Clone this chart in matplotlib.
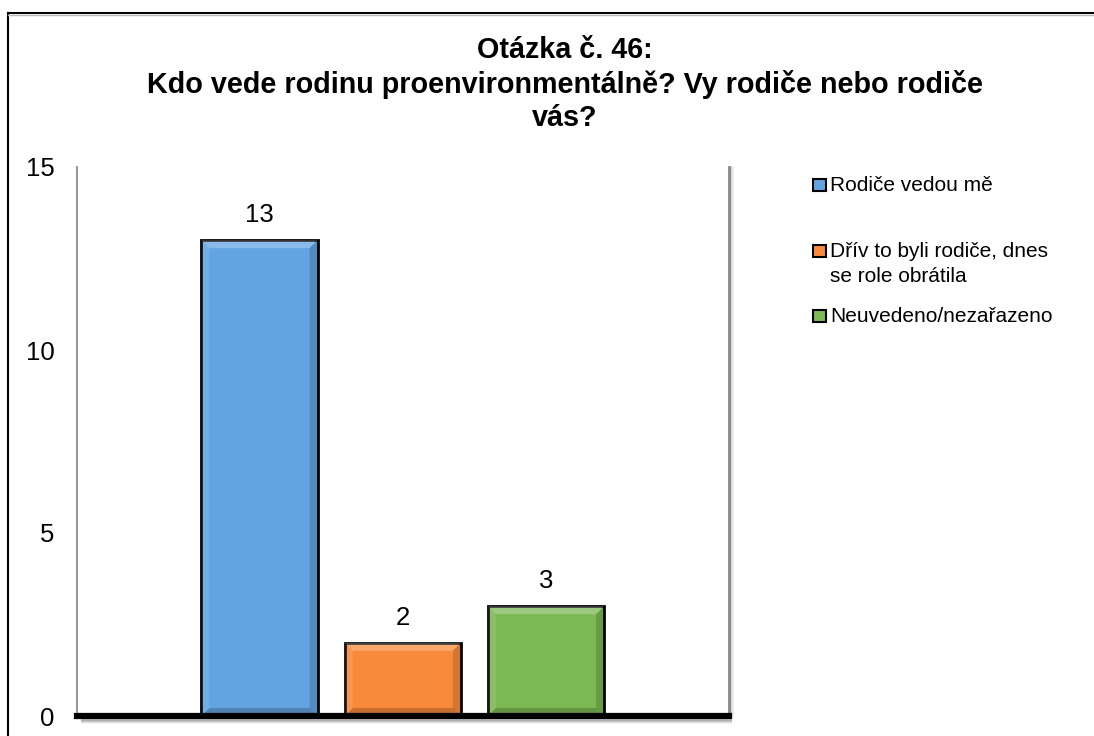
import matplotlib.pyplot as plt
from matplotlib.patches import Polygon, Rectangle
from matplotlib.lines import Line2D

plt.rcParams['font.family'] = ['Liberation Sans', 'DejaVu Sans']

title = "Otázka č. 46:\nKdo vede rodinu proenvironmentálně? Vy rodiče nebo rodiče\nvás?"
labels = ["Rodiče vedou mě", "Dřív to byli rodiče, dnes\nse role obrátila", "Neuvedeno/nezařazeno"]
values = [13, 2, 3]
colors = ["#62a4e2", "#f98a3c", "#7cb854"]
yticks = [0, 5, 10, 15]

W, H = 1094, 736
fig = plt.figure(figsize=(W / 100, H / 100), dpi=100)

# outer frame (only left and top visible)
fig.add_artist(Line2D([8 / W, 8 / W], [0, 1 - 13 / H], color="black", lw=1.5, transform=fig.transFigure))
fig.add_artist(Line2D([8 / W, 1], [1 - 13 / H, 1 - 13 / H], color="black", lw=1.5, transform=fig.transFigure))
fig.add_artist(Line2D([8 / W, 1], [1 - 15 / H, 1 - 15 / H], color="#bbbbbb", lw=1, transform=fig.transFigure))

left, right, bottom, top = 77, 729, 716, 167
ax = fig.add_axes([left / W, 1 - bottom / H, (right - left) / W, (bottom - top) / H])
xmin, xmax = -1.274, 3.277
ax.set_xlim(xmin, xmax)
ax.set_ylim(0, 15)

bar_w = 0.81
bars = ax.bar(range(len(values)), values, width=bar_w, color=colors,
              edgecolor="black", linewidth=2, zorder=3)

# bevel effect on each bar
px_x = (xmax - xmin) / (right - left)
px_y = 15 / (bottom - top)
bev = 8
for b, c in zip(bars, colors):
    x0, y0 = b.get_x(), b.get_y()
    x1, y1 = x0 + b.get_width(), y0 + b.get_height()
    dx, dy = bev * px_x, bev * px_y
    topp = Polygon([(x0, y1), (x1, y1), (x1 - dx, y1 - dy), (x0 + dx, y1 - dy)],
                   closed=True, facecolor="white", alpha=0.25, lw=0, zorder=4)
    botp = Polygon([(x0, y0), (x1, y0), (x1 - dx, y0 + dy), (x0 + dx, y0 + dy)],
                   closed=True, facecolor="black", alpha=0.2, lw=0, zorder=4)
    rp = Polygon([(x1, y0), (x1, y1), (x1 - dx, y1 - dy), (x1 - dx, y0 + dy)],
                 closed=True, facecolor="black", alpha=0.15, lw=0, zorder=4)
    lp = Polygon([(x0, y0), (x0, y1), (x0 + dx, y1 - dy), (x0 + dx, y0 + dy)],
                 closed=True, facecolor="white", alpha=0.1, lw=0, zorder=4)
    for p in (topp, botp, rp, lp):
        ax.add_patch(p)
    ax.text(b.get_x() + b.get_width() / 2, y1 + 25 * px_y, str(int(b.get_height())),
            ha="center", va="center", fontsize=18.5)

for s in ("top", "bottom"):
    ax.spines[s].set_visible(False)
ax.spines["left"].set_color("#999999")
ax.spines["left"].set_linewidth(1.5)
ax.spines["right"].set_color("#888888")
ax.spines["right"].set_linewidth(2)
# shadow right of plot area
for i, a in enumerate([0.35, 0.25, 0.15, 0.08]):
    ax.axvline(xmax + (i + 1.5) * px_x, color="gray", alpha=a, lw=1, clip_on=False)

# thick baseline with shadow
for i, a in enumerate([0.45, 0.3, 0.18, 0.08]):
    ax.plot([xmin + 5 * px_x, xmax + 2 * px_x], [-(4 + i) * px_y] * 2, color="gray",
            alpha=a, lw=1.5, clip_on=False, zorder=2)
ax.axhline(0, color="black", lw=4.5, zorder=5, clip_on=False)

ax.set_xticks([])
ax.set_yticks(yticks)
ax.tick_params(axis="y", length=0, labelsize=18.5, pad=16)

fig.text(565 / W, 1 - 84 / H, title, ha="center", va="center",
         fontsize=20.7, fontweight="bold", linespacing=1.25)

# legend
leg_base = [191, 257, 322]
for lab, c, yy in zip(labels, colors, leg_base):
    fig.add_artist(Rectangle((813 / W, 1 - yy / H), 13 / W, 12 / H, facecolor=c,
                             edgecolor="black", lw=1.5, transform=fig.transFigure))
    first, *rest = lab.split("\n")
    fig.text(830 / W, 1 - yy / H, first, ha="left", va="baseline", fontsize=15)
    for k, line in enumerate(rest):
        fig.text(830 / W, 1 - (yy + 25 * (k + 1)) / H, line, ha="left", va="baseline",
                 fontsize=15)

fig.savefig("out.png", dpi=100)
